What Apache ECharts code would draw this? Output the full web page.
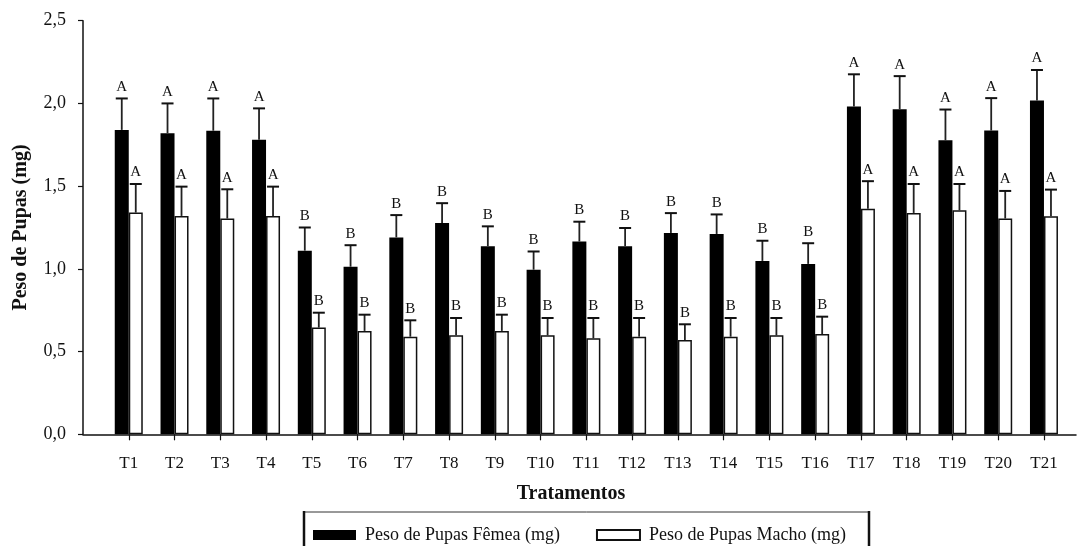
<!DOCTYPE html>
<html>
<head>
<meta charset="utf-8">
<script src="https://cdn.jsdelivr.net/npm/echarts@6/dist/echarts.min.js"></script>
<style>
  html, body { margin: 0; padding: 0; background: #fff; }
  #chart { width: 1078px; height: 546px; }
</style>
</head>
<body>
<div id="chart"></div>
<script>
// Treatments
const categories = ['T1','T2','T3','T4','T5','T6','T7','T8','T9','T10','T11',
                    'T12','T13','T14','T15','T16','T17','T18','T19','T20','T21'];

// Female pupal weight (mg): mean and upper deviation
const femaleMean = [1.84, 1.82, 1.835, 1.78, 1.11, 1.013, 1.19, 1.277, 1.137, 0.995, 1.165,
                    1.137, 1.217, 1.211, 1.048, 1.03, 1.981, 1.965, 1.777, 1.836, 2.017];
const femaleErr  = [0.19, 0.18, 0.195, 0.19, 0.14, 0.13, 0.135, 0.12, 0.12, 0.11, 0.12,
                    0.11, 0.12, 0.118, 0.122, 0.125, 0.195, 0.20, 0.186, 0.196, 0.185];
const femaleGroup = ['A','A','A','A','B','B','B','B','B','B','B',
                     'B','B','B','B','B','A','A','A','A','A'];

// Male pupal weight (mg): mean and upper deviation
const maleMean = [1.34, 1.32, 1.304, 1.32, 0.645, 0.625, 0.59, 0.598, 0.625, 0.598, 0.58,
                  0.59, 0.57, 0.59, 0.598, 0.606, 1.363, 1.338, 1.354, 1.304, 1.318];
const maleErr  = [0.173, 0.177, 0.177, 0.177, 0.09, 0.098, 0.099, 0.105, 0.098, 0.105, 0.123,
                  0.113, 0.095, 0.113, 0.105, 0.105, 0.167, 0.175, 0.159, 0.167, 0.161];
const maleGroup = ['A','A','A','A','B','B','B','B','B','B','B',
                   'B','B','B','B','B','A','A','A','A','A'];

const yTicks = [0, 0.5, 1.0, 1.5, 2.0, 2.5];

const SERIF = '"Liberation Serif", "DejaVu Serif", serif';
const BAR_W = 14;
const xIdx = categories.map((c, i) => i + 1);

function errorData(mean, err, group) {
  return mean.map((m, i) => [i + 1, m, m + err[i], group[i]]);
}

// Upper error whisker with cap and the significance letter above it
function errorRenderer(shift) {
  return function (params, api) {
    const base = api.coord([api.value(0), api.value(1)]);
    const top = api.coord([api.value(0), api.value(2)]);
    const x = base[0] + shift;
    const halfCap = 6;
    return {
      type: 'group',
      children: [
        { type: 'line', shape: { x1: x, y1: base[1], x2: x, y2: top[1] },
          style: { stroke: '#222', lineWidth: 1.8 } },
        { type: 'line', shape: { x1: x - halfCap, y1: top[1], x2: x + halfCap, y2: top[1] },
          style: { stroke: '#111', lineWidth: 2 } },
        { type: 'text', x: x, y: top[1] - 4,
          style: { text: api.value(3), font: '15px ' + SERIF, fill: '#111',
                   align: 'center', verticalAlign: 'bottom' } }
      ]
    };
  };
}

const chart = echarts.init(document.getElementById('chart'), null, { renderer: 'canvas' });

chart.setOption({
  backgroundColor: '#fff',
  animation: false,
  grid: { left: 83, right: 2, top: 20.7, bottom: 111.7, containLabel: false },
  xAxis: {
    type: 'value',
    min: 0, max: 21.7,
    interval: 1,
    splitLine: { show: false },
    axisLine: { show: true, lineStyle: { color: '#111', width: 1.5 } },
    axisTick: { show: true, length: 6, customValues: xIdx, lineStyle: { color: '#111', width: 1.2 } },
    axisLabel: {
      customValues: xIdx,
      margin: 21,
      formatter: v => categories[Math.round(v) - 1] || '',
      fontFamily: SERIF, fontSize: 17, color: '#111'
    }
  },
  yAxis: {
    type: 'value',
    min: 0, max: 2.5, interval: 0.5,
    splitLine: { show: false },
    axisLine: { show: true, lineStyle: { color: '#111', width: 1.5 } },
    axisTick: { show: true, length: 5, customValues: yTicks, lineStyle: { color: '#111', width: 1.2 } },
    axisLabel: {
      customValues: yTicks,
      margin: 17,
      formatter: v => v.toFixed(1).replace('.', ','),
      fontFamily: SERIF, fontSize: 18, color: '#111'
    },
    name: 'Peso de Pupas (mg)',
    nameLocation: 'middle',
    nameGap: 52,
    nameTextStyle: { fontFamily: SERIF, fontSize: 20, fontWeight: 'bold', color: '#111' }
  },
  legend: {
    left: 313, top: 526, padding: 0,
    itemWidth: 43, itemHeight: 10, itemGap: 36,
    icon: 'rect',
    textStyle: { fontFamily: SERIF, fontSize: 18, color: '#111', padding: [0, 0, 0, 4] },
    data: ['Peso de Pupas Fêmea (mg)', 'Peso de Pupas Macho (mg)']
  },
  graphic: [
    { type: 'text', x: 571, y: 484,
      style: { text: 'Tratamentos', font: 'bold 20px ' + SERIF, fill: '#111', align: 'center' } },
    { type: 'line', shape: { x1: 303, y1: 512, x2: 870, y2: 512 }, style: { stroke: '#333', lineWidth: 1 } },
    { type: 'line', shape: { x1: 304, y1: 511, x2: 304, y2: 546 }, style: { stroke: '#111', lineWidth: 2.5 } },
    { type: 'line', shape: { x1: 869, y1: 511, x2: 869, y2: 546 }, style: { stroke: '#111', lineWidth: 2.5 } }
  ],
  series: [
    {
      name: 'Peso de Pupas Fêmea (mg)',
      type: 'bar',
      barWidth: BAR_W,
      barGap: '0%',
      itemStyle: { color: '#000' },
      data: femaleMean.map((v, i) => [i + 1, v])
    },
    {
      name: 'Peso de Pupas Macho (mg)',
      type: 'bar',
      barWidth: BAR_W,
      barGap: '0%',
      itemStyle: { color: '#fff', borderColor: '#111', borderWidth: 1.5 },
      data: maleMean.map((v, i) => [i + 1, v])
    },
    {
      type: 'custom',
      renderItem: errorRenderer(-BAR_W / 2),
      data: errorData(femaleMean, femaleErr, femaleGroup),
      encode: { x: 0, y: [1, 2] },
      z: 3
    },
    {
      type: 'custom',
      renderItem: errorRenderer(BAR_W / 2),
      data: errorData(maleMean, maleErr, maleGroup),
      encode: { x: 0, y: [1, 2] },
      z: 3
    }
  ]
});
</script>
</body>
</html>
